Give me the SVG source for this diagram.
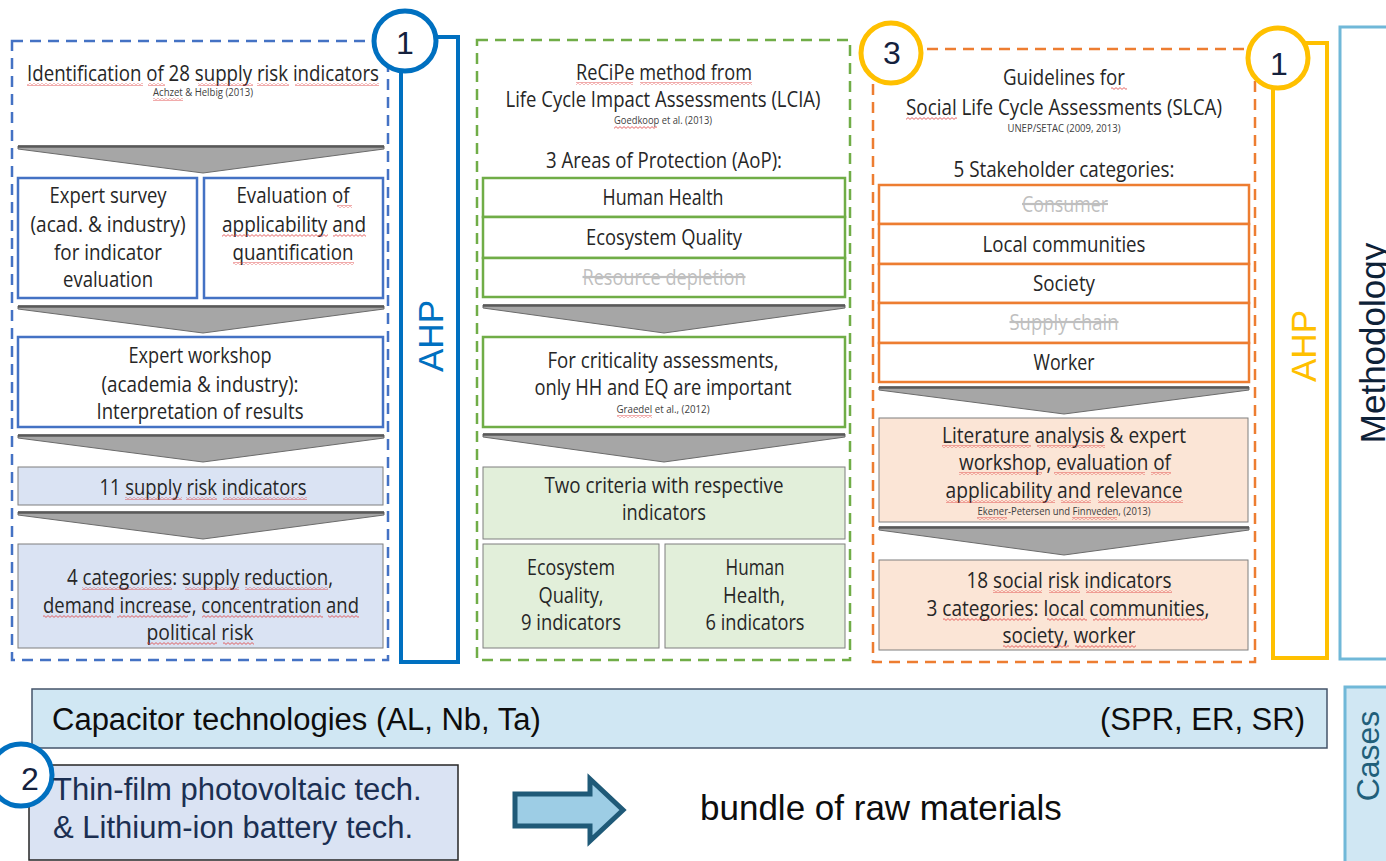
<svg xmlns="http://www.w3.org/2000/svg" width="1386" height="861" viewBox="0 0 1386 861">
<defs>
<style>
.t{font-family:"Open Sans","DejaVu Sans",sans-serif;font-size:22px;fill:#262626;text-anchor:middle}
.c{font-family:"Open Sans","DejaVu Sans",sans-serif;font-size:10px;fill:#404040;text-anchor:middle}
.g{fill:#bfbfbf;text-decoration:line-through}
.a{font-family:"Liberation Sans",Arial,sans-serif}
.pb{fill:none;stroke:#4472c4;stroke-width:2.5;stroke-dasharray:11 7}
.pg{fill:none;stroke:#70ad47;stroke-width:2.5;stroke-dasharray:11 7}
.po{fill:none;stroke:#ed7d31;stroke-width:2.5;stroke-dasharray:11 7}
.bb{fill:#fff;stroke:#4472c4;stroke-width:2.5}
.bg{fill:#fff;stroke:#70ad47;stroke-width:2.5}
.bo{fill:#fff;stroke:#ed7d31;stroke-width:2.5}
.fb{fill:#dae3f3;stroke:#7f7f7f;stroke-width:1}
.fg{fill:#e2efda;stroke:#7f7f7f;stroke-width:1}
.fo{fill:#fbe5d6;stroke:#7f7f7f;stroke-width:1}
.chev{fill:#a6a6a6;stroke:#6b6b6b;stroke-width:1}
.num{font-family:"Liberation Sans",Arial,sans-serif;font-size:32px;fill:#14213d;text-anchor:middle}
.sq{fill:url(#squig)}
</style>
<pattern id="squig" patternUnits="userSpaceOnUse" width="4" height="3">
<path d="M0,0.6 L2,2.4 L4,0.6" fill="none" stroke="#e04040" stroke-width="0.8"/>
</pattern>
</defs>
<rect width="1386" height="861" fill="#fff"/>

<!-- panels -->
<g id="panel-supply">
<rect class="pb" x="12" y="41" width="376" height="619"/>
<text class="t" x="203" y="81" textLength="352" lengthAdjust="spacingAndGlyphs">Identification of 28 supply risk indicators</text>
<text class="c" x="203" y="96" textLength="100" lengthAdjust="spacingAndGlyphs">Achzet &amp; Helbig (2013)</text>
</g>
<g id="panel-lcia">
<rect class="pg" x="477" y="40" width="373" height="620"/>
<text class="t" x="664" y="80" textLength="176" lengthAdjust="spacingAndGlyphs">ReCiPe method from</text>
<text class="t" x="663" y="107" textLength="315" lengthAdjust="spacingAndGlyphs">Life Cycle Impact Assessments (LCIA)</text>
<text class="c" x="663" y="124" textLength="98" lengthAdjust="spacingAndGlyphs">Goedkoop et al. (2013)</text>
<text class="t" x="664" y="168" textLength="236" lengthAdjust="spacingAndGlyphs">3 Areas of Protection (AoP):</text>
</g>
<g id="panel-slca">
<rect class="po" x="873" y="49" width="382" height="613"/>
<text class="t" x="1064" y="85" textLength="122" lengthAdjust="spacingAndGlyphs">Guidelines for</text>
<text class="t" x="1064" y="115" textLength="316" lengthAdjust="spacingAndGlyphs">Social Life Cycle Assessments (SLCA)</text>
<text class="c" x="1064" y="132" textLength="113" lengthAdjust="spacingAndGlyphs">UNEP/SETAC (2009, 2013)</text>
<text class="t" x="1064" y="177" textLength="221" lengthAdjust="spacingAndGlyphs">5 Stakeholder categories:</text>
</g>

<!-- connectors (chevrons and block arrow) -->
<g id="connectors">
<polygon class="chev" points="18,146 384,146 384,149 203,173 18,149"/>
<polygon class="chev" points="18,306 384,306 384,309 203,333 18,309"/>
<polygon class="chev" points="18,435 384,435 384,438 203,462 18,438"/>
<polygon class="chev" points="18,512 384,512 384,515 203,539 18,515"/>
<polygon class="chev" points="483,305 845,305 845,308 664,333 483,308"/>
<polygon class="chev" points="483,434 845,434 845,437 664,462 483,437"/>
<polygon class="chev" points="879,387 1249,387 1249,390 1064,414 879,390"/>
<polygon class="chev" points="879,527 1249,527 1249,530 1064,555 879,530"/>
<g stroke="#595959" stroke-width="2.5">
<line x1="18" y1="146.5" x2="384" y2="146.5"/><line x1="18" y1="306.5" x2="384" y2="306.5"/>
<line x1="18" y1="435.5" x2="384" y2="435.5"/><line x1="18" y1="512.5" x2="384" y2="512.5"/>
<line x1="483" y1="305.5" x2="845" y2="305.5"/><line x1="483" y1="434.5" x2="845" y2="434.5"/>
<line x1="879" y1="387.5" x2="1249" y2="387.5"/><line x1="879" y1="527.5" x2="1249" y2="527.5"/>
</g>
<path d="M515,794 H590 V779 L623,810 L590,841 V826 H515 Z" fill="#9dcde5" stroke="#1f5a78" stroke-width="5" stroke-linejoin="miter"/>
</g>

<!-- left column nodes -->
<g id="expert-survey">
<rect class="bb" x="18" y="178" width="179" height="120"/>
<text class="t" x="108" y="203" textLength="117" lengthAdjust="spacingAndGlyphs">Expert survey</text>
<text class="t" x="108" y="232" textLength="155" lengthAdjust="spacingAndGlyphs">(acad. &amp; industry)</text>
<text class="t" x="108" y="260" textLength="108" lengthAdjust="spacingAndGlyphs">for indicator</text>
<text class="t" x="108" y="287" textLength="90" lengthAdjust="spacingAndGlyphs">evaluation</text>
</g>
<g id="evaluation">
<rect class="bb" x="204" y="178" width="179" height="120"/>
<text class="t" x="293" y="203" textLength="113" lengthAdjust="spacingAndGlyphs">Evaluation of</text>
<text class="t" x="294" y="232" textLength="144" lengthAdjust="spacingAndGlyphs">applicability and</text>
<text class="t" x="293" y="260" textLength="121" lengthAdjust="spacingAndGlyphs">quantification</text>
</g>
<g id="expert-workshop">
<rect class="bb" x="18" y="337" width="365" height="90"/>
<text class="t" x="200" y="363" textLength="143" lengthAdjust="spacingAndGlyphs">Expert workshop</text>
<text class="t" x="200" y="392" textLength="197" lengthAdjust="spacingAndGlyphs">(academia &amp; industry):</text>
<text class="t" x="200" y="419" textLength="207" lengthAdjust="spacingAndGlyphs">Interpretation of results</text>
</g>
<g id="supply-risk-11">
<rect class="fb" x="18" y="467" width="365" height="38"/>
<text class="t" x="203" y="495" textLength="207" lengthAdjust="spacingAndGlyphs">11 supply risk indicators</text>
</g>
<g id="categories-4">
<rect class="fb" x="18" y="544" width="365" height="104"/>
<text class="t" x="200" y="585" textLength="266" lengthAdjust="spacingAndGlyphs">4 categories: supply reduction,</text>
<text class="t" x="201" y="613" textLength="316" lengthAdjust="spacingAndGlyphs">demand increase, concentration and</text>
<text class="t" x="200" y="640" textLength="107" lengthAdjust="spacingAndGlyphs">political risk</text>
</g>
<g id="ahp-left">
<rect x="401" y="37" width="57" height="625" fill="none" stroke="#0070c0" stroke-width="4"/>
<ellipse cx="405" cy="41" rx="31" ry="30" fill="#fff" stroke="#0070c0" stroke-width="5"/>
<text class="num" x="405" y="54">1</text>
<text class="a" x="443" y="336" transform="rotate(-90 443 336)" font-size="35" fill="#0070c0" text-anchor="middle">AHP</text>
</g>

<!-- middle column nodes -->
<g id="aop-hh">
<rect class="bg" x="483" y="178" width="362" height="39"/>
<text class="t" x="663" y="205" textLength="121" lengthAdjust="spacingAndGlyphs">Human Health</text>
</g>
<g id="aop-eq">
<rect class="bg" x="483" y="217" width="362" height="41"/>
<text class="t" x="664" y="245" textLength="156" lengthAdjust="spacingAndGlyphs">Ecosystem Quality</text>
</g>
<g id="aop-rd">
<rect class="bg" x="483" y="258" width="362" height="39"/>
<text class="t g" x="664" y="285" textLength="163" lengthAdjust="spacingAndGlyphs">Resource depletion</text>
</g>
<g id="criticality">
<rect class="bg" x="483" y="337" width="362" height="90"/>
<text class="t" x="663" y="368" textLength="231" lengthAdjust="spacingAndGlyphs">For criticality assessments,</text>
<text class="t" x="663" y="395" textLength="257" lengthAdjust="spacingAndGlyphs">only HH and EQ are important</text>
<text class="c" x="663" y="413" textLength="93" lengthAdjust="spacingAndGlyphs">Graedel et al., (2012)</text>
</g>
<g id="two-criteria">
<rect class="fg" x="483" y="467" width="362" height="72"/>
<text class="t" x="664" y="493" textLength="239" lengthAdjust="spacingAndGlyphs">Two criteria with respective</text>
<text class="t" x="664" y="520" textLength="84" lengthAdjust="spacingAndGlyphs">indicators</text>
</g>
<g id="eq-indicators">
<rect class="fg" x="483" y="544" width="176" height="104"/>
<text class="t" x="571" y="575" textLength="88" lengthAdjust="spacingAndGlyphs">Ecosystem</text>
<text class="t" x="571" y="603" textLength="65" lengthAdjust="spacingAndGlyphs">Quality,</text>
<text class="t" x="571" y="630" textLength="100" lengthAdjust="spacingAndGlyphs">9 indicators</text>
</g>
<g id="hh-indicators">
<rect class="fg" x="665" y="544" width="180" height="104"/>
<text class="t" x="755" y="575" textLength="59" lengthAdjust="spacingAndGlyphs">Human</text>
<text class="t" x="754" y="603" textLength="62" lengthAdjust="spacingAndGlyphs">Health,</text>
<text class="t" x="755" y="630" textLength="99" lengthAdjust="spacingAndGlyphs">6 indicators</text>
</g>

<!-- right column nodes -->
<g id="sh-consumer">
<rect class="bo" x="879" y="185" width="370" height="39"/>
<text class="t g" x="1065" y="212" textLength="86" lengthAdjust="spacingAndGlyphs">Consumer</text>
</g>
<g id="sh-local">
<rect class="bo" x="879" y="224" width="370" height="40"/>
<text class="t" x="1064" y="252" textLength="163" lengthAdjust="spacingAndGlyphs">Local communities</text>
</g>
<g id="sh-society">
<rect class="bo" x="879" y="264" width="370" height="39"/>
<text class="t" x="1064" y="291" textLength="62" lengthAdjust="spacingAndGlyphs">Society</text>
</g>
<g id="sh-supply">
<rect class="bo" x="879" y="303" width="370" height="40"/>
<text class="t g" x="1064" y="330" textLength="109" lengthAdjust="spacingAndGlyphs">Supply chain</text>
</g>
<g id="sh-worker">
<rect class="bo" x="879" y="343" width="370" height="39"/>
<text class="t" x="1064" y="370" textLength="61" lengthAdjust="spacingAndGlyphs">Worker</text>
</g>
<g id="literature">
<rect class="fo" x="879" y="418" width="369" height="104"/>
<text class="t" x="1064" y="443" textLength="244" lengthAdjust="spacingAndGlyphs">Literature analysis &amp; expert</text>
<text class="t" x="1065" y="470" textLength="212" lengthAdjust="spacingAndGlyphs">workshop, evaluation of</text>
<text class="t" x="1064" y="498" textLength="237" lengthAdjust="spacingAndGlyphs">applicability and relevance</text>
<text class="c" x="1064" y="515" textLength="173" lengthAdjust="spacingAndGlyphs">Ekener-Petersen und Finnveden, (2013)</text>
</g>
<g id="social-18">
<rect class="fo" x="879" y="560" width="369" height="90"/>
<text class="t" x="1069" y="588" textLength="205" lengthAdjust="spacingAndGlyphs">18 social risk indicators</text>
<text class="t" x="1068" y="616" textLength="283" lengthAdjust="spacingAndGlyphs">3 categories: local communities,</text>
<text class="t" x="1069" y="643" textLength="133" lengthAdjust="spacingAndGlyphs">society, worker</text>
</g>
<g id="circle-3">
<ellipse cx="891" cy="53" rx="30" ry="30" fill="#fff" stroke="#ffc000" stroke-width="5"/>
<text class="num" x="892" y="64">3</text>
</g>
<g id="ahp-right">
<rect x="1273" y="43" width="54" height="615" fill="none" stroke="#ffc000" stroke-width="4"/>
<ellipse cx="1278" cy="58" rx="30" ry="30" fill="#fff" stroke="#ffc000" stroke-width="5"/>
<text class="num" x="1279" y="75">1</text>
<text class="a" x="1316" y="346" transform="rotate(-90 1316 346)" font-size="35" fill="#ffc000" text-anchor="middle">AHP</text>
</g>
<g id="methodology">
<rect x="1340" y="27" width="60" height="632" fill="#fff" stroke="#70b8d8" stroke-width="3"/>
<text class="a" x="1385" y="343" transform="rotate(-90 1385 343)" font-size="35" fill="#0d2137" text-anchor="middle">Methodology</text>
</g>

<!-- spell-check underlines as shown in the picture -->
<g id="squiggles">
<rect class="sq" x="27" y="83" width="116" height="3"/>
<rect class="sq" x="148" y="83" width="17" height="3"/>
<rect class="sq" x="198" y="83" width="55" height="3"/>
<rect class="sq" x="257" y="83" width="32" height="3"/>
<rect class="sq" x="295" y="83" width="84" height="3"/>
<rect class="sq" x="153" y="98" width="30" height="3"/>
<rect class="sq" x="337" y="205" width="15" height="3"/>
<rect class="sq" x="222" y="234" width="106" height="3"/>
<rect class="sq" x="333" y="234" width="33" height="3"/>
<rect class="sq" x="233" y="262" width="121" height="3"/>
<rect class="sq" x="125" y="497" width="57" height="3"/>
<rect class="sq" x="186" y="497" width="31" height="3"/>
<rect class="sq" x="223" y="497" width="84" height="3"/>
<rect class="sq" x="82" y="587" width="90" height="3"/>
<rect class="sq" x="185" y="587" width="54" height="3"/>
<rect class="sq" x="245" y="587" width="83" height="3"/>
<rect class="sq" x="43" y="615" width="68" height="3"/>
<rect class="sq" x="117" y="615" width="71" height="3"/>
<rect class="sq" x="202" y="615" width="121" height="3"/>
<rect class="sq" x="328" y="615" width="31" height="3"/>
<rect class="sq" x="147" y="642" width="70" height="3"/>
<rect class="sq" x="223" y="642" width="31" height="3"/>
<rect class="sq" x="576" y="82" width="57" height="3"/>
<rect class="sq" x="640" y="82" width="112" height="3"/>
<rect class="sq" x="614" y="126" width="43" height="3"/>
<rect class="sq" x="617" y="415" width="35" height="3"/>
<rect class="sq" x="1111" y="87" width="16" height="3"/>
<rect class="sq" x="906" y="117" width="51" height="3"/>
<rect class="sq" x="942" y="445" width="89" height="3"/>
<rect class="sq" x="1037" y="445" width="68" height="3"/>
<rect class="sq" x="959" y="472" width="83" height="3"/>
<rect class="sq" x="1054" y="472" width="91" height="3"/>
<rect class="sq" x="1151" y="472" width="20" height="3"/>
<rect class="sq" x="946" y="500" width="109" height="3"/>
<rect class="sq" x="1061" y="500" width="30" height="3"/>
<rect class="sq" x="1098" y="500" width="85" height="3"/>
<rect class="sq" x="977" y="517" width="30" height="3"/>
<rect class="sq" x="1072" y="517" width="45" height="3"/>
<rect class="sq" x="993" y="590" width="49" height="3"/>
<rect class="sq" x="1049" y="590" width="31" height="3"/>
<rect class="sq" x="1086" y="590" width="86" height="3"/>
<rect class="sq" x="943" y="618" width="89" height="3"/>
<rect class="sq" x="1047" y="618" width="40" height="3"/>
<rect class="sq" x="1093" y="618" width="112" height="3"/>
<rect class="sq" x="1003" y="645" width="66" height="3"/>
<rect class="sq" x="1075" y="645" width="61" height="3"/>
</g>

<!-- bottom -->
<g id="capacitor">
<rect x="32" y="689" width="1295" height="59" fill="#d0e7f3" stroke="#44546a" stroke-width="1.5"/>
<text class="a" x="52" y="730" font-size="31" fill="#0d0d0d">Capacitor technologies (AL, Nb, Ta)</text>
<text class="a" x="1305" y="730" font-size="31" fill="#0d0d0d" text-anchor="end">(SPR, ER, SR)</text>
</g>
<g id="thin-film">
<rect x="29" y="765" width="429" height="95" fill="#dae3f3" stroke="#262626" stroke-width="1.5"/>
<ellipse cx="21" cy="775" rx="31" ry="31" fill="#fff" stroke="#0070c0" stroke-width="5"/>
<text class="num" x="30" y="790">2</text>
<text class="a" x="53" y="800" font-size="31" fill="#1b2f52">Thin-film photovoltaic tech.</text>
<text class="a" x="53" y="838" font-size="31" fill="#1b2f52">&amp; Lithium-ion battery tech.</text>
</g>
<g id="bundle">
<text class="a" x="700" y="820" font-size="35" fill="#0d0d0d">bundle of raw materials</text>
</g>
<g id="cases">
<rect x="1345" y="687" width="60" height="200" fill="#d0e7f3" stroke="#70b8d8" stroke-width="3"/>
<text class="a" x="1379" y="756" transform="rotate(-90 1379 756)" font-size="32" fill="#215f7a" text-anchor="middle">Cases</text>
</g>
</svg>
